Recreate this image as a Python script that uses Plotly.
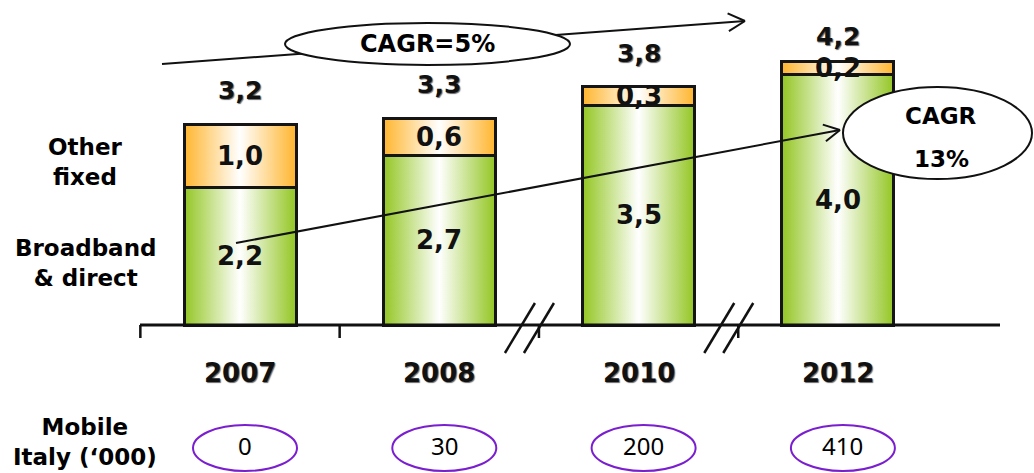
import math
import plotly.graph_objects as go

# ---- data -------------------------------------------------------------
years = ["2007", "2008", "2010", "2012"]
broadband_direct = [2.2, 2.7, 3.5, 4.0]
other_fixed = [1.0, 0.6, 0.3, 0.2]
mobile_italy = [0, 30, 200, 410]
cagr_total = "CAGR=5%"
cagr_broadband = ["CAGR", "13%"]

totals = [round(a + b, 1) for a, b in zip(broadband_direct, other_fixed)]


def fmt(v):
    return f"{v:.1f}".replace(".", ",")


# ---- canvas geometry: axes span the whole figure ------------------------
W, H = 1034, 473
PX_X = 199.3          # pixels per category step
PX_Y = 62.7           # pixels per unit of value
ORIGIN_X, ORIGIN_Y = 240, 325   # pixel position of (category 0, value 0)


def ux(px):
    return (px - ORIGIN_X) / PX_X


def uy(py):
    return (ORIGIN_Y - py) / PX_Y


XR = [ux(0), ux(W)]
YR = [uy(H), uy(0)]
BAR_W = 112 / PX_X

FONT = "DejaVu Sans"
GREEN = "#93c623"
ORANGE = "#ffb52e"
PURPLE = "#7a1ed0"

xs = list(range(len(years)))
fig = go.Figure()

# gradient fills of every stacked segment
for i in xs:
    segs = [(0, broadband_direct[i], GREEN),
            (broadband_direct[i], totals[i], ORANGE)]
    for lo, hi, col in segs:
        x0, x1 = i - BAR_W / 2, i + BAR_W / 2
        fig.add_trace(go.Scatter(
            x=[x0, x1, x1, x0, x0], y=[lo, lo, hi, hi, lo],
            mode="lines", line=dict(width=0), fill="toself",
            fillgradient=dict(type="horizontal",
                              colorscale=[[0, col], [0.5, "#ffffff"], [1, col]]),
            hoverinfo="skip"))

# stacked bars carrying the outlines, on an overlaid pair of axes so they sit above the fills
for vals in (broadband_direct, other_fixed):
    fig.add_trace(go.Bar(
        x=xs, y=vals, width=BAR_W, xaxis="x2", yaxis="y2",
        marker=dict(color="rgba(0,0,0,0)", line=dict(color="#151515", width=3)),
        hoverinfo="skip"))

shapes = []
ann = []

# baseline, ticks and axis breaks
shapes.append(dict(type="line", x0=ux(140), x1=ux(1000), y0=0, y1=0,
                   line=dict(color="#111", width=3)))
for t in [-0.5, 0.5, 1.5, 2.5]:
    shapes.append(dict(type="line", x0=t, x1=t, y0=0, y1=uy(ORIGIN_Y + 13),
                       line=dict(color="#111", width=2.5)))
for b in [1.5, 2.5]:
    for off in (-34, -15):
        xb = ux(ORIGIN_X + b * PX_X + off)
        shapes.append(dict(type="line", x0=xb, y0=uy(353),
                           x1=xb + 30 / PX_X, y1=uy(303),
                           line=dict(color="#111", width=2.5)))


def arrow(p0, p1, arm=19, ang=28):
    """Straight line from p0 to p1 (pixels) with an open V head at p1."""
    out = [dict(type="line", x0=ux(p0[0]), y0=uy(p0[1]),
                x1=ux(p1[0]), y1=uy(p1[1]),
                line=dict(color="#111", width=2))]
    th = math.atan2(p0[1] - p1[1], p0[0] - p1[0])
    for s in (-1, 1):
        a = th + s * math.radians(ang)
        out.append(dict(type="line", x0=ux(p1[0]), y0=uy(p1[1]),
                        x1=ux(p1[0] + arm * math.cos(a)),
                        y1=uy(p1[1] + arm * math.sin(a)),
                        line=dict(color="#111", width=2)))
    return out


# CAGR of total revenues
shapes += arrow((162, 64), (745, 21))
shapes.append(dict(type="circle", x0=ux(285), x1=ux(570), y0=uy(23), y1=uy(65),
                   fillcolor="white", line=dict(color="#111", width=2)))
ann.append(dict(x=ux(427), y=uy(44), text=f"<b>{cagr_total}</b>", showarrow=False,
                font=dict(family=FONT, size=24, color="#000")))

# CAGR of broadband & direct
shapes += arrow((236, 243), (840, 130), arm=18)
shapes.append(dict(type="circle", x0=ux(843), x1=ux(1032), y0=uy(87), y1=uy(179),
                   fillcolor="white", line=dict(color="#111", width=2)))
ann.append(dict(x=ux(941), y=uy(116), text=f"<b>{cagr_broadband[0]}</b>",
                showarrow=False, font=dict(family=FONT, size=23, color="#000")))
ann.append(dict(x=ux(941), y=uy(159), text=f"<b>{cagr_broadband[1]}</b>",
                showarrow=False, font=dict(family=FONT, size=23, color="#000")))

# value labels
SHADOW = "1px 1px 1px rgba(0,0,0,0.6)"
top_shift = [34, 34, 33, 25]
for i in xs:
    ann.append(dict(x=i, y=broadband_direct[i] / 2, text=f"<b>{fmt(broadband_direct[i])}</b>",
                    showarrow=False, font=dict(family=FONT, size=26, color="#111")))
    ann.append(dict(x=i, y=broadband_direct[i] + other_fixed[i] / 2,
                    text=f"<b>{fmt(other_fixed[i])}</b>", showarrow=False,
                    font=dict(family=FONT, size=26, color="#111")))
    ann.append(dict(x=i, y=totals[i], yshift=top_shift[i], text=f"<b>{fmt(totals[i])}</b>",
                    showarrow=False,
                    font=dict(family=FONT, size=25, color="#111", shadow=SHADOW)))
    ann.append(dict(x=i, y=uy(373), text=f"<b>{years[i]}</b>", showarrow=False,
                    font=dict(family=FONT, size=26, color="#111", shadow=SHADOW)))
    # mobile subscribers
    cx = i + ux(245)
    shapes.append(dict(type="circle", x0=cx - 52 / PX_X, x1=cx + 52 / PX_X,
                       y0=uy(425), y1=uy(471), line=dict(color=PURPLE, width=2)))
    ann.append(dict(x=cx, y=uy(445), text=str(mobile_italy[i]), showarrow=False,
                    font=dict(family="Noto Sans", size=24, color="#000")))

# row labels
for txt, px, py, sz in [("Other<br>fixed", 85, 162, 23),
                        ("Broadband<br>& direct", 85, 263, 23),
                        ("Mobile<br>Italy (‘000)", 85, 442, 23)]:
    ann.append(dict(x=ux(px), y=uy(py), text=f"<b>{txt}</b>", showarrow=False,
                    align="center", font=dict(family=FONT, size=sz, color="#000")))

fig.update_layout(
    width=W, height=H, margin=dict(l=0, r=0, t=0, b=0),
    paper_bgcolor="white", plot_bgcolor="white",
    barmode="stack", showlegend=False,
    xaxis=dict(range=XR, visible=False, fixedrange=True),
    yaxis=dict(range=YR, visible=False, fixedrange=True),
    xaxis2=dict(range=XR, visible=False, fixedrange=True, overlaying="x"),
    yaxis2=dict(range=YR, visible=False, fixedrange=True, overlaying="y"),
    shapes=shapes, annotations=ann,
)

fig.write_html("out.html")
